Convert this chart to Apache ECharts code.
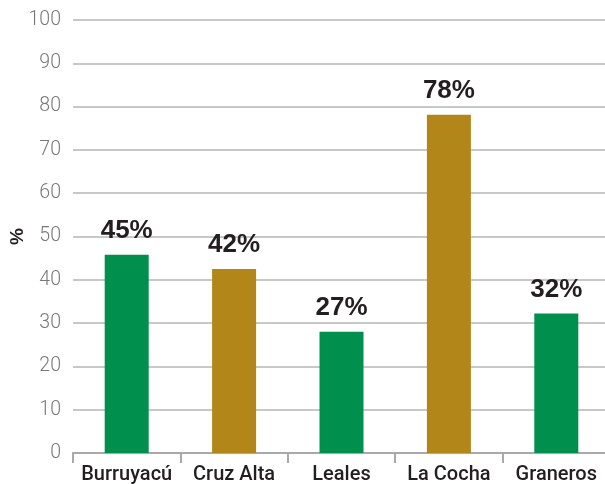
<!DOCTYPE html>
<html>
<head>
<meta charset="utf-8">
<script src="https://cdn.jsdelivr.net/npm/echarts@6/dist/echarts.min.js"></script>
<style>html,body{margin:0;padding:0;background:#fff}#c{width:605px;height:484px}</style>
</head>
<body>
<div id="c"></div>
<script>
var categories = ['Burruyacú', 'Cruz Alta', 'Leales', 'La Cocha', 'Graneros'];
var values = [45.8, 42.5, 28.0, 78.1, 32.2];
var valueLabels = ['45%', '42%', '27%', '78%', '32%'];
var barColors = ['#008f4c', '#b3861a', '#008f4c', '#b3861a', '#008f4c'];
var yTicks = [0, 10, 20, 30, 40, 50, 60, 70, 80, 90, 100];

var chart = echarts.init(document.getElementById('c'), null, {renderer: 'canvas'});
chart.setOption({
  animation: false,
  grid: {left: 73, right: -5, top: 20, bottom: 31, containLabel: false, outerBoundsMode: 'none'},
  xAxis: {
    type: 'category',
    data: categories,
    axisLine: {lineStyle: {color: '#a7a9ac', width: 2}},
    axisTick: {show: true, interval: 0, length: 10, lineStyle: {color: '#a7a9ac', width: 2}},
    axisLabel: {interval: 0, hideOverlap: false, color: '#231f20', fontSize: 20, fontWeight: 500, fontFamily: 'Roboto, sans-serif', margin: 12}
  },
  yAxis: {
    type: 'value',
    min: 0, max: 100, interval: 10,
    name: '%',
    nameLocation: 'middle',
    nameGap: 46,
    nameRotate: 90,
    nameMoveOverlap: false,
    nameTextStyle: {color: '#231f20', fontSize: 19, fontWeight: 'bold', fontFamily: 'Liberation Sans, Arial, sans-serif'},
    axisLine: {show: false},
    axisTick: {show: false},
    axisLabel: {
      color: '#77787b', fontSize: 19.5, fontFamily: 'Roboto, sans-serif', fontWeight: 300, margin: 12,
      formatter: function (v) { return yTicks.indexOf(v) >= 0 ? String(v) : ''; }
    },
    splitLine: {lineStyle: {color: '#c7c8ca', width: 2}}
  },
  series: [{
    type: 'bar',
    barWidth: 44,
    data: values.map(function (v, i) {
      return {value: v, itemStyle: {color: barColors[i]}};
    }),
    label: {
      show: true,
      position: 'top',
      distance: 11,
      color: '#231f20',
      fontSize: 26,
      fontWeight: 'bold',
      fontFamily: 'Liberation Sans, Arial, sans-serif',
      formatter: function (p) { return valueLabels[p.dataIndex]; }
    }
  }]
});
</script>
</body>
</html>
